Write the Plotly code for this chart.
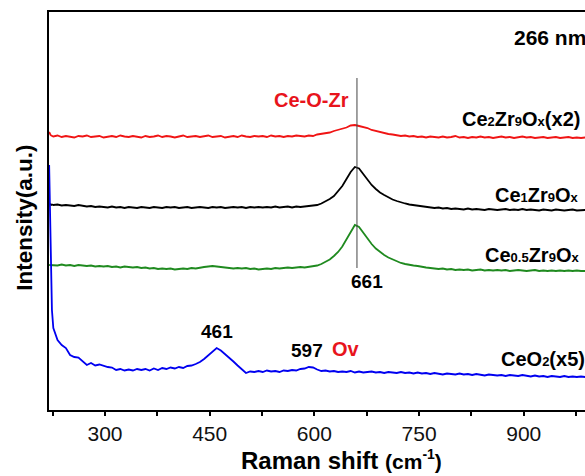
import plotly.graph_objects as go

# Raman shift grid (cm^-1): dense at the low-wavenumber edge, then 6 cm^-1 steps
shift = [220, 221, 222, 223, 224] + list(range(226, 989, 6))

# Offset intensities (a.u.) of each spectrum, stacked top to bottom
ce2zr9_x2 = [
    278, 276, 275, 274.5, 274,
    273.5, 274.5, 273, 274, 273.5, 272.5, 274, 273.5, 274.5, 273,
    273.5, 274, 272.5, 273.5, 274, 273, 274.5, 273.5, 273, 274,
    273.5, 272.5, 274, 273, 273.5, 274.5, 273, 274, 273.5, 272.5,
    273.5, 274.5, 273, 273.5, 274, 273, 273.5, 274.5, 273, 273.5,
    274, 272.5, 273.5, 274, 273, 274.5, 273.5, 273, 274, 273.5,
    274, 273, 274.5, 273.5, 274, 273, 274, 273.5, 274.5, 274,
    273.5, 274.5, 274, 275.5, 276, 277, 277.5, 279, 280, 281.5,
    282.5, 284.5, 285, 284, 283, 282, 280, 279, 277.5, 277,
    276, 275.5, 275, 274, 274.5, 273.5, 274, 273, 273.5, 272.5,
    273.5, 273, 272.5, 273.5, 272.5, 273, 274, 272.5, 273, 272,
    273, 272.5, 273.5, 272.5, 273, 272, 273, 273.5, 272.5, 273,
    272, 272.5, 273.5, 272.5, 273, 272, 272.5, 273, 272, 272.5,
    273, 272, 272.5, 273, 272, 272.5, 272, 272.5,
]
ce1zr9 = [
    206.5, 206, 205.5, 205, 205.5,
    205, 205.5, 204.5, 205, 204.5, 204, 205, 204, 203.5, 204,
    203, 203.5, 203, 202.5, 203.5, 202.5, 203, 202, 203, 202.5,
    202, 203, 202.5, 202, 203, 202.5, 202, 203, 202.5, 203,
    202, 202.5, 203, 202, 202.5, 203, 202.5, 202, 203, 202.5,
    203, 202, 202.5, 203, 202.5, 203, 202, 203, 202.5, 203,
    202.5, 203, 202.5, 203.5, 202.5, 203, 203.5, 202.5, 203.5, 203,
    203.5, 203.5, 204, 205, 206.5, 208.5, 211, 214, 218.5, 224,
    231, 238, 243, 241.5, 236, 230.5, 225, 221, 217.5, 215,
    212.5, 210.5, 209, 207.5, 206.5, 205.5, 205, 204, 203.5, 203,
    202.5, 202, 202.5, 201.5, 202, 201, 201.5, 201, 200.5, 201.5,
    200.5, 201, 200.5, 200, 201, 200.5, 200, 200.5, 201, 200,
    200.5, 200, 201, 200, 200.5, 200, 199.5, 200.5, 200, 199.5,
    200.5, 200, 199.5, 200, 200.5, 199.5, 200, 200,
]
ce05zr9 = [
    145, 145, 144.5, 145, 144.5,
    145, 144.5, 145.5, 144.5, 145, 144, 145, 144.5, 144, 144.5,
    143.5, 144, 143.5, 144, 143, 143.5, 142.5, 143.5, 143, 142.5,
    143, 142, 142.5, 141.5, 142, 141, 141.5, 141, 141.5, 140.5,
    141, 141.5, 141, 142, 141.5, 142.5, 143, 143.5, 144, 143.5,
    143, 142.5, 142, 141.5, 142, 141.5, 142, 141, 141.5, 140.5,
    141, 141.5, 141, 142, 141.5, 142, 142.5, 142, 142.5, 143,
    142.5, 143, 143.5, 144.5, 146, 148, 150.5, 154, 158, 163.5,
    171, 179, 185, 183, 177, 171, 166, 161.5, 158, 155,
    152.5, 150.5, 148.5, 147, 146, 145, 144.5, 144, 143, 142.5,
    142, 141.5, 141, 141.5, 140.5, 141, 140, 140.5, 140, 140.5,
    139.5, 140, 140.5, 139.5, 140, 139.5, 140, 139.5, 140, 139,
    139.5, 140, 139.5, 139, 139.5, 140, 139, 139.5, 139, 139.5,
    139, 139.5, 139, 139.5, 139, 139.5, 139, 139,
]
ceo2_x5 = [
    245, 210, 160, 120, 100,
    82, 70, 65, 62, 55, 53, 52.5, 49, 45, 47,
    44.5, 45.5, 44, 43, 42.5, 40, 41, 39.5, 40.5, 39.5,
    41, 40, 41, 39.5, 41.5, 40, 42, 41, 42.5, 41.5,
    43, 42, 44, 44.5, 46, 48, 51, 55, 59, 62,
    59.5, 56, 52, 48.5, 44.5, 40.5, 37, 38.5, 38, 39,
    38, 39.5, 38.5, 39, 38, 39.5, 39, 40, 39.5, 41,
    41.5, 43, 42.5, 40.5, 39, 39.5, 38.5, 39, 38, 38.5,
    38, 39, 37.5, 38.5, 37.5, 38, 38.5, 37.5, 38, 37,
    38, 37.5, 37, 38, 37, 37.5, 36.5, 37.5, 36.5, 37,
    36, 37, 36.5, 35.5, 36.5, 36, 35.5, 36.5, 35.5, 36,
    35, 36, 35.5, 34.5, 35.5, 35, 34.5, 35, 34, 35,
    34.5, 34, 35, 34, 33.5, 34.5, 33.5, 34, 33, 34,
    33.5, 33, 34, 33, 33.5, 33, 33.5, 33,
]

# Marked band positions (cm^-1)
band_ceo2_f2g = 461
band_ov = 597
band_ce_o_zr = 661

FONT = "Liberation Sans, Arial, sans-serif"
RED_TXT = "#e8141c"


def small(s, size=13):
    return f"<span style='font-size:{size}px'>{s}</span>"


fig = go.Figure()
series = [
    (ce2zr9_x2, "#f01414", "Ce2Zr9Ox(x2)"),
    (ce1zr9, "#000000", "Ce1Zr9Ox"),
    (ce05zr9, "#1f8a1f", "Ce0.5Zr9Ox"),
    (ceo2_x5, "#0000f0", "CeO2(x5)"),
]
for ys, color, name in series:
    fig.add_trace(go.Scatter(x=shift, y=ys, mode="lines", name=name,
                             line=dict(color=color, width=1.8), showlegend=False))

# Guide line through the Ce-O-Zr band
fig.add_shape(type="line", x0=band_ce_o_zr, x1=band_ce_o_zr, y0=142, y1=332,
              xref="x", yref="y", line=dict(color="#444444", width=1))

ann = []


def label(x, y, text, size=20, color="black", xanchor="left", xref="x", yref="y", xshift=0):
    ann.append(dict(x=x, y=y, xref=xref, yref=yref, text=text, showarrow=False,
                    xanchor=xanchor, yanchor="middle", xshift=xshift,
                    font=dict(family=FONT, size=size, color=color)))


label(883, 373, "<b>266 nm</b>", size=21)
label(539, 310, "<b>Ce-O-Zr</b>", size=20, color=RED_TXT)
label(808, 291, "<b>Ce" + small("2") + "Zr" + small("9") + "O" + small("x") + "(x2)</b>", size=20)
label(856, 215, "<b>Ce" + small("1") + "Zr" + small("9") + "O" + small("x") + "</b>", size=20)
label(841, 155, "<b>Ce" + small("0.5") + "Zr" + small("9") + "O" + small("x") + "</b>", size=20)
label(864, 51, "<b>CeO" + small("2") + "(x5)</b>", size=20)
label(band_ce_o_zr, 129, f"<b>{band_ce_o_zr}</b>", size=19, xanchor="center", xshift=10)
label(band_ceo2_f2g, 79, f"<b>{band_ceo2_f2g}</b>", size=19, xanchor="center")
label(band_ov, 60, f"<b>{band_ov}</b>", size=19, xanchor="center", xshift=-5)
label(646, 61, "<b>Ov</b>", size=20, color=RED_TXT, xanchor="center")

# Axis titles
label(-0.0448, 0.483, "<b>Intensity(a.u.)</b>", size=22.5, xanchor="center", xref="paper", yref="paper")
ann[-1]["textangle"] = -90
label(0.545, -0.125,
      "<b>Raman shift " + small("(cm", 21) + "<sup>" + small("-1", 14) + "</sup>" + small(")", 21) + "</b>",
      size=24, xanchor="center", xref="paper", yref="paper")

fig.update_layout(
    width=585, height=476,
    margin=dict(l=49, r=0, t=12, b=66),
    paper_bgcolor="white", plot_bgcolor="white",
    annotations=ann,
    font=dict(family=FONT, color="black"),
    xaxis=dict(
        range=[219.8, 987.7], showgrid=False, zeroline=False,
        showline=True, linecolor="black", linewidth=2, mirror=True,
        ticks="outside", ticklen=4, tickwidth=1.5, tickcolor="black",
        tick0=300, dtick=150,
        minor=dict(ticks="outside", ticklen=4, tickwidth=1.5, tickcolor="black",
                   tick0=225, dtick=75),
        tickfont=dict(family=FONT, size=21, color="#111111"),
    ),
    yaxis=dict(
        range=[0, 398], showgrid=False, zeroline=False,
        showline=True, linecolor="black", linewidth=2, mirror=False,
        ticks="", showticklabels=False,
    ),
)

fig.write_html("out.html")
